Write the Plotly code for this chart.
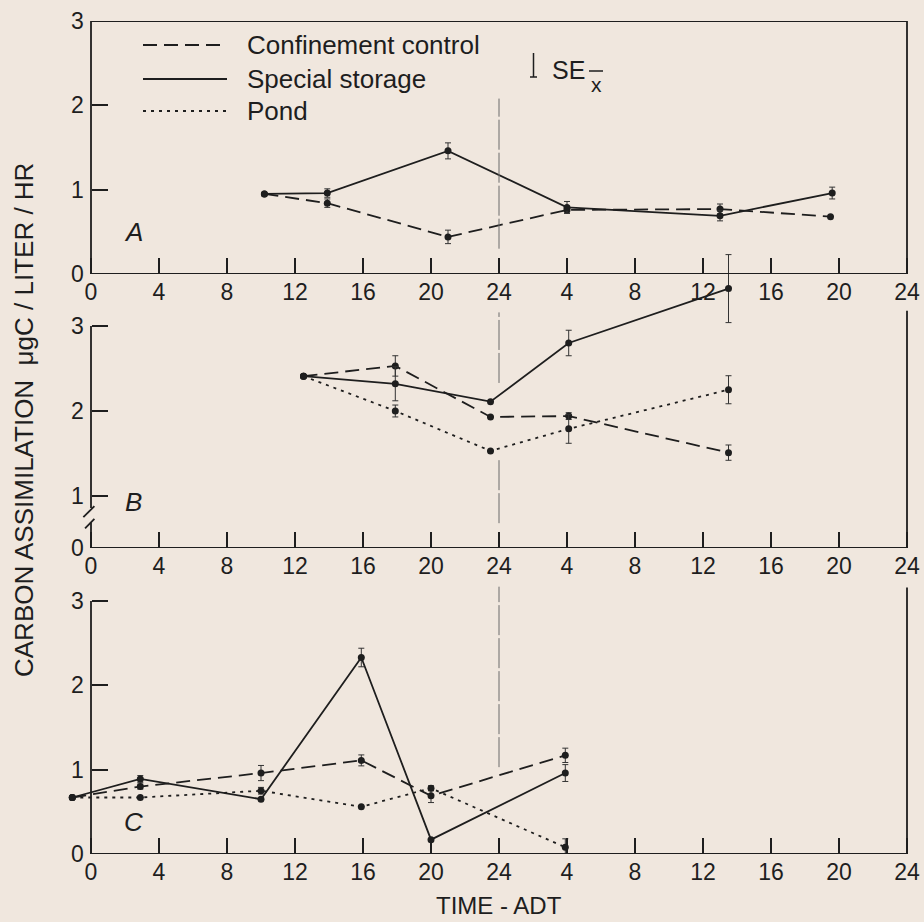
import plotly.graph_objects as go

W, H = 924, 922
FONT = "Liberation Sans"
INK = "#1e1e1e"
BG = "#f0e7de"

# ---------------- data ----------------
hour_ticks = [0, 4, 8, 12, 16, 20, 24, 28, 32, 36, 40, 44, 48]
hour_labels = ["0", "4", "8", "12", "16", "20", "24", "4", "8", "12", "16", "20", "24"]

A_ctrl_x = [10.2, 13.9, 21.0, 28.0, 37.0, 43.5]
A_ctrl_y = [0.95, 0.84, 0.44, 0.76, 0.77, 0.68]
A_ctrl_se = [0, 0.05, 0.08, 0.04, 0.06, 0]
A_spec_x = [10.2, 13.9, 21.0, 28.0, 37.0, 43.6]
A_spec_y = [0.95, 0.96, 1.46, 0.79, 0.69, 0.96]
A_spec_se = [0, 0.05, 0.095, 0.07, 0.06, 0.07]

B_x = [12.5, 17.9, 23.5, 28.1, 37.5]
B_ctrl_y = [2.41, 2.53, 1.93, 1.94, 1.51]
B_ctrl_se = [0, 0.12, 0, 0.04, 0.09]
B_spec_y = [2.41, 2.32, 2.11, 2.80, 3.44]
B_spec_se = [0, 0.2, 0, 0.15, 0.4]
B_pond_y = [2.41, 2.00, 1.53, 1.79, 2.25]
B_pond_se = [0, 0.07, 0, 0.17, 0.165]

C_x = [-1.1, 2.9, 10.0, 15.9, 20.0, 27.9]
C_ctrl_y = [0.67, 0.80, 0.96, 1.11, 0.69, 1.17]
C_ctrl_se = [0, 0.03, 0.09, 0.065, 0.08, 0.085]
C_spec_y = [0.67, 0.89, 0.65, 2.33, 0.17, 0.96]
C_spec_se = [0, 0.04, 0, 0.11, 0, 0.1]
C_pond_y = [0.67, 0.67, 0.75, 0.56, 0.78, 0.08]
C_pond_se = [0, 0, 0.04, 0, 0.03, 0.1]

series_names = ["Confinement control", "Special storage", "Pond"]
B_break_zero = 0.388  # position of the "0" label below the axis break in panel B

# ---------------- helpers ----------------
def px(x):
    return x / W

def py(y):
    return 1 - y / H

DASH = {"Confinement control": "14px,7px", "Special storage": "solid", "Pond": "3px,5px"}

fig = go.Figure()

def add_series(name, xs, ys, se, xa, ya):
    fig.add_trace(go.Scatter(
        x=xs, y=ys, mode="lines+markers", name=name, showlegend=False,
        xaxis=xa, yaxis=ya, cliponaxis=False,
        line=dict(color=INK, width=1.8, dash=DASH[name]),
        marker=dict(color=INK, size=7),
        error_y=dict(type="data", array=se, visible=True, color="#333", thickness=1, width=3),
    ))

add_series("Confinement control", A_ctrl_x, A_ctrl_y, A_ctrl_se, "x", "y")
add_series("Special storage", A_spec_x, A_spec_y, A_spec_se, "x", "y")
add_series("Confinement control", B_x, B_ctrl_y, B_ctrl_se, "x2", "y2")
add_series("Special storage", B_x, B_spec_y, B_spec_se, "x2", "y2")
add_series("Pond", B_x, B_pond_y, B_pond_se, "x2", "y2")
add_series("Confinement control", C_x, C_ctrl_y, C_ctrl_se, "x3", "y3")
add_series("Special storage", C_x, C_spec_y, C_spec_se, "x3", "y3")
add_series("Pond", C_x, C_pond_y, C_pond_se, "x3", "y3")

# ---------------- axes ----------------
XR = [-1.5, 48.3]
xdom = [px(65.5), px(912.1)]
ypos = px(90.7)

xcommon = dict(range=XR, domain=xdom, tickvals=hour_ticks, ticktext=hour_labels,
               ticks="inside", ticklen=16, tickwidth=1.5, tickcolor=INK, automargin=False,
               showline=False, showgrid=False, zeroline=False, ticklabelstandoff=2,
               tickfont=dict(family=FONT, size=23, color=INK))
ycommon = dict(anchor="free", position=ypos, ticks="inside", ticklen=16, tickwidth=1.5,
               tickcolor=INK, showline=False, showgrid=False, zeroline=False, automargin=False,
               ticklabelstandoff=7,
               tickfont=dict(family=FONT, size=23, color=INK))

fig.update_layout(
    xaxis=dict(anchor="y", **xcommon),
    xaxis2=dict(anchor="y2", **xcommon),
    xaxis3=dict(anchor="y3", **xcommon),
    yaxis=dict(range=[0, 3], domain=[py(274), py(21)], tickvals=[0, 1, 2, 3],
               ticktext=["0", "1", "2", "3"], **ycommon),
    yaxis2=dict(range=[B_break_zero, 3.9], domain=[py(548), py(249.5)],
                tickvals=[B_break_zero, 1, 2, 3], ticktext=["0", "1", "2", "3"], **ycommon),
    yaxis3=dict(range=[0, 3.2], domain=[py(854), py(854 - 3.2 * 84.33)], tickvals=[0, 1, 2, 3],
                ticktext=["0", "1", "2", "3"], **ycommon),
    width=W, height=H, margin=dict(l=0, r=0, t=0, b=0, autoexpand=False),
    paper_bgcolor=BG, plot_bgcolor="rgba(0,0,0,0)",
    font=dict(family=FONT, color=INK),
)

shapes = []

def seg(x0, y0, x1, y1, xr, yr, width=1.8, color=INK, dash="solid"):
    shapes.append(dict(type="line", x0=x0, y0=y0, x1=x1, y1=y1, xref=xr, yref=yr,
                       line=dict(color=color, width=width, dash=dash)))

# Panel A frame
seg(0, 0, 48, 0, "x", "y")
seg(0, 0, 0, 3, "x", "y")
seg(0, 3, 48, 3, "x", "y")
seg(48, 0, 48, 3, "x", "y")
# Panel B frame with axis break
b0 = B_break_zero
seg(0, b0, 48, b0, "x2", "y2")
seg(0, b0, 0, 0.69, "x2", "y2")
seg(0, 0.86, 0, 3, "x2", "y2")
seg(-0.45, 0.75, 0.2, 0.88, "x2", "y2")
seg(-0.35, 0.62, 0.2, 0.73, "x2", "y2")
seg(48, b0, 48, 3.18, "x2", "y2")
# Panel C frame
seg(0, 0, 48, 0, "x3", "y3")
seg(0, 0, 0, 3, "x3", "y3")
seg(48, 0, 48, 3.16, "x3", "y3")

# midnight divider
VC = "#6a6a6a"
seg(24, 0.30, 24, 2.08, "x", "y", width=1, color=VC, dash="30px,3px")
seg(24, 2.33, 24, 3.16, "x2", "y2", width=1, color=VC, dash="30px,3px")
seg(24, 0.68, 24, 1.45, "x2", "y2", width=1, color=VC, dash="30px,3px")
seg(24, 1.03, 24, 3.17, "x3", "y3", width=1, color=VC, dash="30px,3px")

# legend lines (paper coords)
for name, yy in zip(series_names, [45, 79, 111]):
    shapes.append(dict(type="line", x0=px(143), x1=px(227), y0=py(yy), y1=py(yy),
                       xref="paper", yref="paper",
                       line=dict(color=INK, width=1.8, dash=DASH[name])))
# SE symbol
shapes.append(dict(type="line", x0=px(533.5), x1=px(533.5), y0=py(53), y1=py(77),
                   xref="paper", yref="paper", line=dict(color=INK, width=1.5)))
shapes.append(dict(type="line", x0=px(530), x1=px(537), y0=py(77), y1=py(77),
                   xref="paper", yref="paper", line=dict(color=INK, width=1.5)))
shapes.append(dict(type="line", x0=px(589), x1=px(603), y0=py(71), y1=py(71),
                   xref="paper", yref="paper", line=dict(color=INK, width=1.5)))
fig.update_layout(shapes=shapes)

ann = []
for name, yy in zip(series_names, [45, 79, 111]):
    ann.append(dict(text=name, x=px(245), y=py(yy), xref="paper", yref="paper",
                    xanchor="left", yanchor="middle", showarrow=False,
                    font=dict(family=FONT, size=26, color=INK)))
ann.append(dict(text="SE", x=px(550), y=py(70), xref="paper", yref="paper", xanchor="left",
                yanchor="middle", showarrow=False, font=dict(family=FONT, size=25, color=INK)))
ann.append(dict(text="x", x=px(596), y=py(84), xref="paper", yref="paper", xanchor="center",
                yanchor="middle", showarrow=False, font=dict(family=FONT, size=21, color=INK)))
for lab, yy in [("A", 232), ("B", 502), ("C", 822)]:
    ann.append(dict(text="<i>" + lab + "</i>", x=px(133), y=py(yy), xref="paper", yref="paper",
                    xanchor="center", yanchor="middle", showarrow=False,
                    font=dict(family=FONT, size=26, color=INK)))
ann.append(dict(text="CARBON ASSIMILATION  \u03bcgC / LITER / HR", x=px(24), y=py(420),
                xref="paper", yref="paper", textangle=-90, showarrow=False,
                xanchor="center", yanchor="middle", font=dict(family=FONT, size=26, color=INK)))
ann.append(dict(text="TIME - ADT", x=px(499), y=py(920), xref="paper", yref="paper",
                showarrow=False, xanchor="center", yanchor="bottom", borderpad=0,
                font=dict(family=FONT, size=24, color=INK)))
fig.update_layout(annotations=ann)

fig.write_html("out.html")
